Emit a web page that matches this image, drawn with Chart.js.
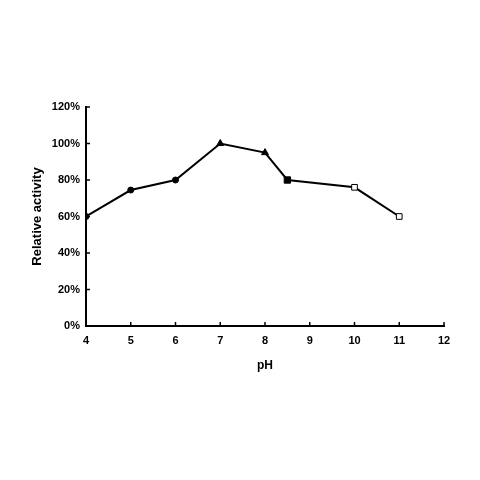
<!DOCTYPE html>
<html>
<head>
<meta charset="utf-8">
<script src="https://cdn.jsdelivr.net/npm/chart.js@4.4.1/dist/chart.umd.min.js"></script>
<style>
    html, body { margin: 0; padding: 0; background: #fff; }
    #wrap { width: 480px; height: 480px; }
</style>
</head>
<body>
<div id="wrap"><canvas id="phChart"></canvas></div>
<script>
const phValues = [4, 5, 6, 7, 8, 8.5, 10, 11];
const activity = [60, 74.5, 80, 100, 95, 80, 76, 60];
const pointShapes = ['circle', 'circle', 'circle', 'triangle', 'triangle', 'rect', 'rect', 'rect'];
const pointFills = ['#000', '#000', '#000', '#000', '#000', '#000', '#fff', '#fff'];
const pointSizes = [3, 3, 3, 4, 4, 4.5, 4, 4];
const yTicks = [0, 20, 40, 60, 80, 100, 120];

// small ticks pointing into the plot, like the original figure
const innerTicks = {
    id: 'innerTicks',
    afterDraw(chart) {
        const { ctx, chartArea, scales } = chart;
        ctx.save();
        ctx.strokeStyle = '#000';
        ctx.lineWidth = 1.5;
        for (let v = 5; v <= 12; v++) {
            const x = scales.x.getPixelForValue(v);
            ctx.beginPath();
            ctx.moveTo(x, chartArea.bottom);
            ctx.lineTo(x, chartArea.bottom - 4);
            ctx.stroke();
        }
        yTicks.slice(1).forEach(v => {
            const y = scales.y.getPixelForValue(v);
            ctx.beginPath();
            ctx.moveTo(chartArea.left, y);
            ctx.lineTo(chartArea.left + 4, y);
            ctx.stroke();
        });
        ctx.restore();
    }
};

const font = { family: '"Liberation Sans", Arial, sans-serif', size: 11, weight: 'bold' };

new Chart(document.getElementById('phChart'), {
    type: 'line',
    data: {
        datasets: [{
            data: phValues.map((x, i) => ({ x: x, y: activity[i] })),
            borderColor: '#000',
            borderWidth: 2,
            pointStyle: pointShapes,
            pointBackgroundColor: pointFills,
            pointBorderColor: '#000',
            pointBorderWidth: 1,
            pointRadius: pointSizes,
            tension: 0
        }]
    },
    options: {
        responsive: true,
        maintainAspectRatio: false,
        animation: false,
        layout: { padding: { left: 26, right: 36, top: 107, bottom: 103 } },
        plugins: { legend: { display: false }, tooltip: { enabled: false } },
        scales: {
            x: {
                type: 'linear',
                min: 4,
                max: 12,
                afterFit: s => { s.height = 51; },
                grid: { drawOnChartArea: false, drawTicks: false },
                border: { display: true, color: '#000', width: 2 },
                ticks: { stepSize: 1, color: '#000', font: font, padding: 8, maxRotation: 0 },
                title: { display: true, text: 'pH', color: '#000', font: { ...font, size: 12 }, padding: { top: 4, bottom: 4 } }
            },
            y: {
                min: 0,
                max: 120,
                afterFit: s => { s.width = 60; },
                afterBuildTicks: s => { s.ticks = yTicks.map(v => ({ value: v })); },
                grid: { drawOnChartArea: false, drawTicks: false },
                border: { display: true, color: '#000', width: 2 },
                ticks: { color: '#000', font: font, padding: 6, callback: v => v + '%' },
                title: { display: true, text: 'Relative activity', color: '#000', font: { ...font, size: 13 }, padding: { top: 4, bottom: 4 } }
            }
        }
    },
    plugins: [innerTicks]
});
</script>
</body>
</html>
